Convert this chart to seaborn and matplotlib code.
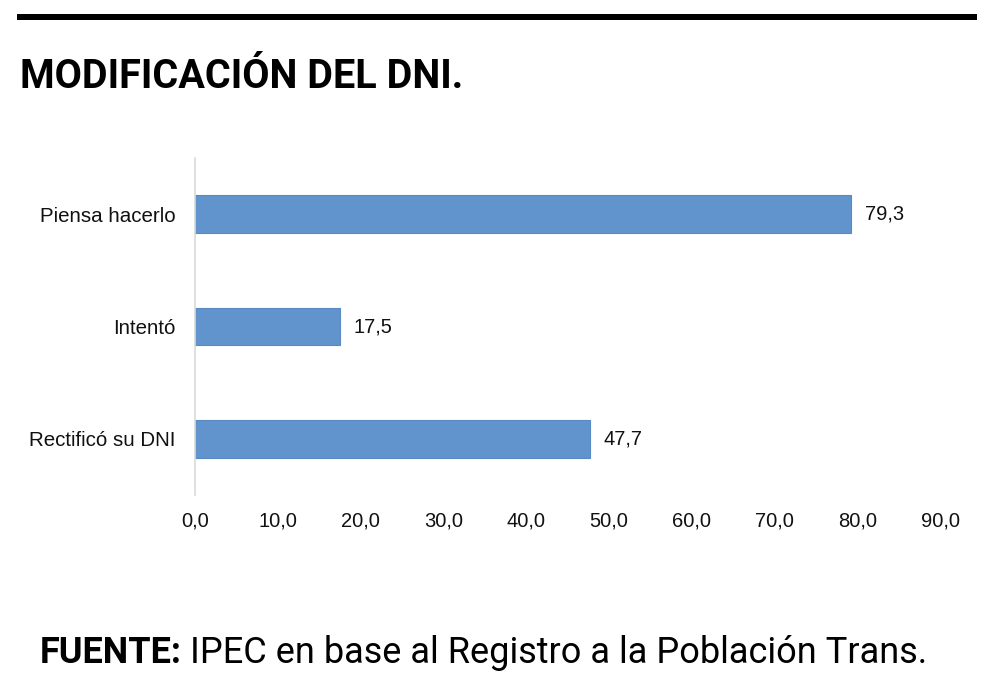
import matplotlib
matplotlib.use("Agg")
import matplotlib.pyplot as plt
from matplotlib.patches import Rectangle
import seaborn as sns
import pandas as pd

# data
categories = ["Piensa hacerlo", "Intentó", "Rectificó su DNI"]
values = [79.3, 17.5, 47.7]
xticks = [0, 10, 20, 30, 40, 50, 60, 70, 80, 90]

df = pd.DataFrame({"categoria": categories, "valor": values})

sns.set_style("white")
plt.rcParams["font.family"] = ["Liberation Sans", "DejaVu Sans"]

fig = plt.figure(figsize=(10, 6.93), dpi=100)
ax = fig.add_axes([0.195, 0.2857, 0.745, 0.486])

sns.barplot(data=df, x="valor", y="categoria", orient="h", color="#6193CC",
            saturation=1, width=0.336, edgecolor="#5A8AC4", linewidth=0.8, ax=ax)

ax.set_xlim(0, 90)
ax.set_xticks(xticks)
ax.set_xticklabels([f"{t:.1f}".replace(".", ",") for t in xticks])
ax.set_xlabel("")
ax.set_ylabel("")
ax.tick_params(axis="x", length=0, pad=12, labelsize=14.5, colors="#111111")
ax.tick_params(axis="y", length=0, pad=14, labelsize=14.8, colors="#111111")

for s in ["top", "right", "bottom"]:
    ax.spines[s].set_visible(False)
ax.spines["left"].set_color("#D9D9D9")
ax.spines["left"].set_linewidth(1.2)

ax.bar_label(ax.containers[0], labels=[f"{v:.1f}".replace(".", ",") for v in values],
             padding=10, fontsize=14.5, color="#111111")

# top rule
fig.add_artist(Rectangle((0.017, 0.971), 0.96, 0.009, transform=fig.transFigure,
                         color="black", lw=0))

# title
fig.text(0.02, 0.873, "MODIFICACIÓN DEL DNI.", fontsize=28.5, fontweight="bold",
         family=["Roboto", "DejaVu Sans"], color="black",
         va="baseline", ha="left")

# source
t1 = fig.text(0.04, 0.043, "FUENTE:", fontsize=26, fontweight="bold",
              family=["Roboto", "DejaVu Sans"], color="black",
              va="baseline", ha="left")
fig.canvas.draw()
bb = t1.get_window_extent()
fig.text(bb.x1 / fig.bbox.width + 0.008, 0.043,
         "IPEC en base al Registro a la Población Trans.", fontsize=26,
         family=["Roboto", "DejaVu Sans"], color="black",
         va="baseline", ha="left")

fig.savefig("out.png", dpi=100)
